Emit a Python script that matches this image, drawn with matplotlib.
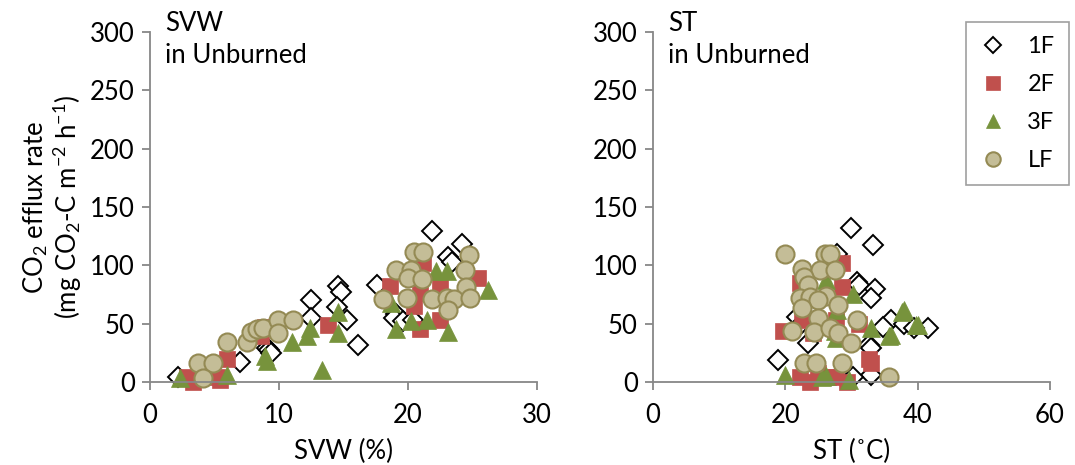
import matplotlib
matplotlib.use("Agg")
import matplotlib.pyplot as plt

plt.rcParams["font.family"] = ["Lato", "DejaVu Sans"]
plt.rcParams["mathtext.default"] = "regular"
plt.rcParams["font.size"] = 18.5

# soil volumetric water (%) vs CO2 efflux, Unburned plots
svw_1f_x = [2.2, 7.0, 9.1, 9.2, 9.4, 12.5, 12.5, 14.6, 14.8, 14.5, 15.3, 16.1, 17.6,
            21.9, 24.2, 23.1, 23.4, 19.1, 18.9, 19.6, 20.4]
svw_1f_y = [4, 17, 29, 27, 25, 70, 55, 82, 77, 64, 53, 32, 83,
            129, 118, 107, 103, 58, 55, 52, 53]
svw_2f_x = [2.9, 3.3, 5.2, 5.4, 6.0, 8.9, 8.6, 13.8, 18.6, 20.9, 22.5, 22.5, 20.5,
            21.2, 25.4, 20.9, 20.8]
svw_2f_y = [4, 0, 4, 2, 20, 47, 39, 49, 82, 45, 53, 83, 65,
            102, 89, 76, 95]
svw_3f_x = [2.3, 6.0, 8.9, 9.1, 11.0, 12.4, 12.2, 13.3, 14.6, 14.6, 19.1, 23.1,
            22.2, 23.0, 26.2, 21.5, 20.2, 18.7]
svw_3f_y = [3, 6, 22, 18, 34, 46, 39, 10, 60, 42, 45, 43,
            95, 95, 79, 53, 52, 68]
svw_lf_x = [3.7, 4.9, 4.1, 6.0, 7.5, 7.8, 8.3, 8.8, 9.9, 11.1, 9.9,
            20.5, 21.2, 19.1, 20.2, 20.0, 21.1, 24.7, 24.4, 24.5, 18.1, 19.9,
            21.9, 23.0, 23.6, 23.1, 24.8]
svw_lf_y = [16, 16, 3, 34, 34, 43, 45, 46, 53, 53, 42,
            111, 111, 96, 96, 89, 88, 109, 96, 81, 71, 72,
            71, 72, 71, 62, 72]

# soil temperature (deg C) vs CO2 efflux, Unburned plots
st_1f_x = [30.0, 33.2, 30.8, 31.2, 33.5, 33.0, 36.0, 34.7, 38.0, 41.5, 39.5,
           32.7, 32.9, 18.9, 33.0, 23.4, 21.7, 30.2, 27.8, 22.3]
st_1f_y = [132, 117, 86, 83, 80, 72, 53, 47, 50, 46, 46,
           32, 29, 19, 6, 33, 56, 4, 110, 50]
st_2f_x = [19.6, 32.7, 23.7, 22.2, 29.3, 27.7, 22.2, 28.5, 28.5, 27.7, 31.2,
           24.2, 22.6, 33.0, 25.0, 26.5]
st_2f_y = [44, 20, 0, 4, 0, 4, 85, 102, 81, 53, 50,
           42, 53, 16, 8, 4]
st_3f_x = [19.9, 26.2, 33.0, 35.7, 37.7, 39.8, 30.2, 27.7, 36.0, 38.0, 40.0,
           25.6, 27.5, 27.8, 26.2, 29.7]
st_3f_y = [6, 5, 46, 39, 60, 49, 75, 38, 40, 62, 49,
           4, 44, 62, 87, 2]
st_lf_x = [19.9, 26.0, 26.7, 22.6, 25.2, 27.5, 22.9, 23.4, 22.2, 23.7, 26.2,
           24.9, 27.9, 22.5, 24.9, 21.0, 24.4, 26.7, 27.9, 30.9, 30.0,
           22.9, 24.7, 28.5, 35.7]
st_lf_y = [110, 110, 110, 97, 96, 96, 90, 83, 72, 73, 74,
           70, 66, 63, 55, 44, 43, 46, 42, 53, 33,
           16, 16, 16, 4]

labels = ["1F", "2F", "3F", "LF"]

styles = [
    dict(marker="D", ms=10, mfc="white", mec="black", mew=1.4),
    dict(marker="s", ms=12, mfc="#C0504D", mec="#C0504D", mew=0.5),
    dict(marker="^", ms=13, mfc="#77933C", mec="#77933C", mew=0.5),
    dict(marker="o", ms=13, mfc="#C4BD97", mec="#948A54", mew=1.5),
]

fig = plt.figure(figsize=(10.75, 4.65), dpi=100)
ax1 = fig.add_axes([0.1395, 0.1785, 0.36, 0.7527])
ax2 = fig.add_axes([0.6074, 0.1785, 0.3693, 0.7527])

panels = [
    (ax1, [(svw_1f_x, svw_1f_y), (svw_2f_x, svw_2f_y), (svw_3f_x, svw_3f_y), (svw_lf_x, svw_lf_y)],
     (0, 30), [0, 10, 20, 30], "SVW (%)"),
    (ax2, [(st_1f_x, st_1f_y), (st_2f_x, st_2f_y), (st_3f_x, st_3f_y), (st_lf_x, st_lf_y)],
     (0, 60), [0, 20, 40, 60], "ST (˚C)"),
]

handles = []
for ax, series, xlim, xticks, xlabel in panels:
    handles = []
    for (x, y), st, lab in zip(series, styles, labels):
        h, = ax.plot(x, y, linestyle="none", label=lab, clip_on=False, **st)
        handles.append(h)
    ax.set_xlim(*xlim)
    ax.set_ylim(0, 300)
    ax.set_xticks(xticks)
    ax.set_yticks(range(0, 301, 50))
    ax.set_xlabel(xlabel, labelpad=8)
    for side in ["top", "right"]:
        ax.spines[side].set_visible(False)
    for side in ["left", "bottom"]:
        ax.spines[side].set_color("#878787")
        ax.spines[side].set_linewidth(1.3)
    ax.tick_params(axis="both", direction="out", length=6, width=1.3,
                   color="#878787", labelsize=18.5)
    ax.tick_params(axis="y", pad=5)
    ax.tick_params(axis="x", pad=9)

ax1.set_ylabel("CO$_2$ efflux rate\n(mg CO$_2$-C m$^{-2}$ h$^{-1}$)", labelpad=4,
               linespacing=1.05)

fig.text(165 / 1075, 1 - 11 / 465, "SVW\nin Unburned", ha="left", va="top",
         fontsize=18.5, linespacing=1.35)
fig.text(668 / 1075, 1 - 11 / 465, "ST\nin Unburned", ha="left", va="top",
         fontsize=18.5, linespacing=1.35)

leg = fig.legend(handles=handles, loc="upper left", bbox_to_anchor=(0.8986, 0.9527),
                 frameon=True, fancybox=False, edgecolor="#878787", fontsize=17,
                 labelspacing=0.72, handletextpad=0.9, borderpad=0.6,
                 handlelength=1.1, borderaxespad=0, markerscale=0.8)
leg.get_frame().set_linewidth(1.2)

fig.savefig("out.png", dpi=100)
